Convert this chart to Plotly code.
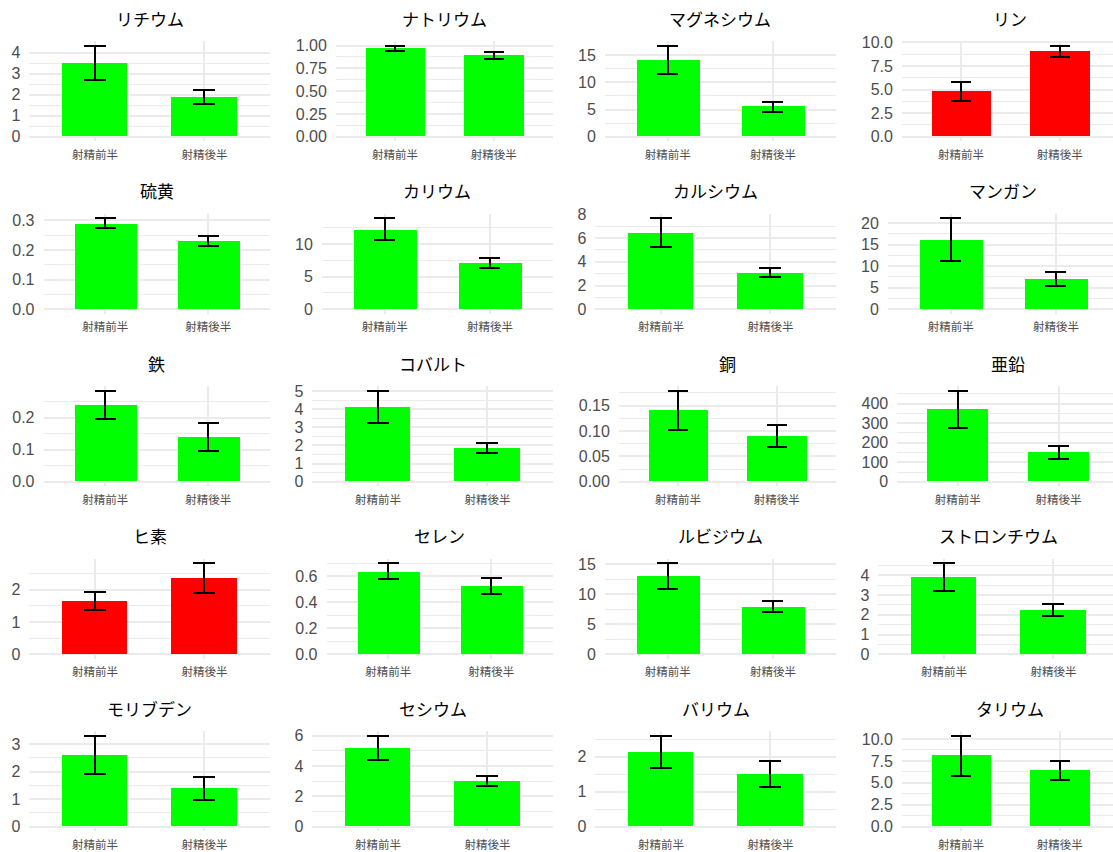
import plotly.graph_objects as go

# ---------------- data ----------------
categories = ["射精前半", "射精後半"]

elements = ["リチウム", "ナトリウム", "マグネシウム", "リン",
            "硫黄", "カリウム", "カルシウム", "マンガン",
            "鉄", "コバルト", "銅", "亜鉛",
            "ヒ素", "セレン", "ルビジウム", "ストロンチウム",
            "モリブデン", "セシウム", "バリウム", "タリウム"]

mean_first = [3.50, 0.97, 14.1, 4.79,
              0.29, 12.27, 6.47, 16.1,
              0.24, 4.12, 0.140, 372,
              1.64, 0.639, 13.03, 3.91,
              2.61, 5.18, 2.13, 8.09]
se_first = [0.82, 0.027, 2.6, 1.0,
            0.017, 1.7, 1.2, 5.0,
            0.044, 0.89, 0.039, 94,
            0.28, 0.062, 2.15, 0.70,
            0.69, 0.80, 0.46, 2.27]
mean_second = [1.88, 0.89, 5.51, 9.04,
               0.23, 7.11, 3.11, 6.98,
               0.14, 1.86, 0.090, 152,
               2.35, 0.528, 7.92, 2.26,
               1.40, 3.02, 1.50, 6.45]
se_second = [0.34, 0.035, 0.92, 0.60,
             0.017, 0.77, 0.40, 1.6,
             0.044, 0.30, 0.022, 33,
             0.46, 0.061, 0.90, 0.30,
             0.42, 0.33, 0.38, 1.08]

# y tick steps and decimals for each panel
tick_step = [1, 0.25, 5, 2.5,
             0.1, 5, 2, 5,
             0.1, 1, 0.05, 100,
             1, 0.2, 5, 1,
             1, 2, 1, 2.5]
tick_dec = [0, 2, 0, 1,
            1, 0, 0, 0,
            1, 0, 2, 0,
            0, 1, 0, 0,
            0, 0, 0, 1]

# ---------------- layout helpers ----------------
W, H = 1113, 852
CELL_W, CELL_H = 283.0, 172.5
TOP_OFF, BOT_OFF = 41.3, 141.3
RIGHT_OFF = 270.0
GREEN, RED = "#00FF00", "#FF0000"
GRID = "#EBEBEB"
LABEL_FONT = "Liberation Sans, Arial, sans-serif"
CJK_FONT = "Noto Sans CJK JP, sans-serif"


def label_width(s):
    return sum(4.7 if ch == "." else 9.4 for ch in s)


fig = go.Figure()
annotations = []

for i, name in enumerate(elements):
    r, c = divmod(i, 4)
    k = i + 1
    ymax = max(mean_first[i] + se_first[i], mean_second[i] + se_second[i])
    lo, hi = -0.05 * ymax, 1.05 * ymax
    step, dec = tick_step[i], tick_dec[i]
    n = int(hi // step + 1e-9)
    labels = [f"{j * step:.{dec}f}" for j in range(n + 1)]
    lw = max(label_width(s) for s in labels)

    cell_left = c * CELL_W
    left = cell_left + 20 + lw
    right = cell_left + RIGHT_OFF
    ppu = (right - left) / 2.2
    right_clip = min(right, W)
    xr_hi = -0.6 + (right_clip - left) / ppu
    top = r * CELL_H + TOP_OFF
    bottom = r * CELL_H + BOT_OFF

    color = RED if mean_second[i] > mean_first[i] else GREEN
    fig.add_trace(go.Bar(
        x=categories, y=[mean_first[i], mean_second[i]],
        width=0.6, marker=dict(color=color, line=dict(width=0)),
        error_y=dict(type="data", array=[se_first[i], se_second[i]],
                     visible=True, color="black", thickness=2,
                     width=0.1 * ppu),
        xaxis=f"x{k}", yaxis=f"y{k}", showlegend=False,
    ))

    fig.layout[f"xaxis{k}"] = dict(
        domain=[left / W, right_clip / W], anchor=f"y{k}",
        type="category", range=[-0.6, xr_hi], automargin=False,
        showgrid=True, gridcolor=GRID, gridwidth=1.8,
        ticks="", showline=False, zeroline=False,
        tickfont=dict(family=CJK_FONT, size=11.5, color="#4D4D4D"),
        ticklabelstandoff=5,
    )
    fig.layout[f"yaxis{k}"] = dict(
        domain=[1 - bottom / H, 1 - top / H], anchor=f"x{k}",
        range=[lo, hi], tickmode="linear", tick0=0, dtick=step,
        tickformat=f".{dec}f", automargin=False,
        showgrid=True, gridcolor=GRID, gridwidth=1.8,
        minor=dict(tick0=0, dtick=step / 2, showgrid=True,
                   gridcolor=GRID, gridwidth=1.0),
        ticks="", showline=False, zeroline=False,
        tickfont=dict(family=LABEL_FONT, size=16, color="#4D4D4D"),
        ticklabelstandoff=8,
    )
    annotations.append(dict(
        text=name, x=(left + right) / 2 / W, y=1 - (top - 23) / H,
        xref="paper", yref="paper", xanchor="center", yanchor="middle",
        showarrow=False, font=dict(family=CJK_FONT, size=17, color="black"),
    ))

fig.update_layout(
    width=W, height=H, autosize=False,
    margin=dict(l=0, r=0, t=0, b=0, pad=0, autoexpand=False),
    paper_bgcolor="white", plot_bgcolor="white",
    annotations=annotations, bargap=0,
)

fig.write_html("out.html",
               config={"displayModeBar": False},
               post_script="document.body.style.margin='0';"
                           "document.body.style.overflow='hidden';")
